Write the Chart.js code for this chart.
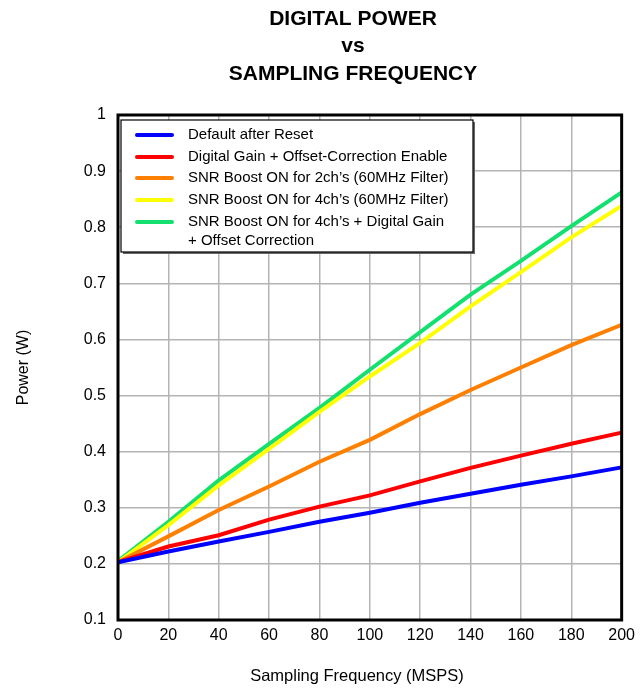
<!DOCTYPE html>
<html>
<head>
<meta charset="utf-8">
<script src="https://cdn.jsdelivr.net/npm/chart.js@4.4.1/dist/chart.umd.min.js"></script>
<style>
  html, body { margin: 0; padding: 0; background: #fff; }
  #wrap { width: 641px; height: 688px; position: relative; }
</style>
</head>
<body>
<div id="wrap"><canvas id="powerChart"></canvas></div>
<script>
// sampling frequency (MSPS)
const freqs = [0, 20, 40, 60, 80, 100, 120, 140, 160, 180, 200];

// digital power (W)
const defaultAfterReset = [0.203, 0.222, 0.240, 0.257, 0.275, 0.291, 0.309, 0.325, 0.341, 0.356, 0.372];
const gainOffsetEnable  = [0.203, 0.231, 0.251, 0.279, 0.302, 0.322, 0.347, 0.371, 0.393, 0.414, 0.434];
const snrBoost2ch       = [0.203, 0.249, 0.296, 0.338, 0.382, 0.421, 0.467, 0.510, 0.550, 0.590, 0.626];
const snrBoost4ch       = [0.203, 0.269, 0.340, 0.405, 0.471, 0.534, 0.594, 0.659, 0.720, 0.782, 0.838];
const snrBoost4chGain   = [0.205, 0.275, 0.349, 0.414, 0.478, 0.546, 0.613, 0.680, 0.740, 0.802, 0.862];

const seriesLabels = [
  ['Default after Reset'],
  ['Digital Gain + Offset-Correction Enable'],
  ['SNR Boost ON for 2ch\u2019s (60MHz Filter)'],
  ['SNR Boost ON for 4ch\u2019s (60MHz Filter)'],
  ['SNR Boost ON for 4ch\u2019s + Digital Gain', '+ Offset Correction']
];
const seriesColors = ['#0000ff', '#ff0000', '#ff8000', '#ffff00', '#14e070'];

const titleLines = ['DIGITAL POWER', 'vs', 'SAMPLING FREQUENCY'];
const xTitle = 'Sampling Frequency (MSPS)';
const yTitle = 'Power (W)';

const FONT = '"Liberation Sans", Arial, Helvetica, sans-serif';

const allSeries = [defaultAfterReset, gainOffsetEnable, snrBoost2ch, snrBoost4ch, snrBoost4chGain];
const datasets = allSeries.map((vals, i) => ({
  label: seriesLabels[i].join(' '),
  data: freqs.map((f, k) => ({ x: f, y: vals[k] })),
  borderColor: seriesColors[i],
  borderWidth: 4,
  pointRadius: 0,
  tension: 0,
  fill: false
}));

// title, x title, frame and the boxed legend
const decor = {
  id: 'decor',
  afterDraw(chart) {
    const { ctx, chartArea: a } = chart;
    ctx.save();

    // titles
    ctx.fillStyle = '#000';
    ctx.textAlign = 'center';
    ctx.textBaseline = 'middle';
    ctx.font = 'bold 21px ' + FONT;
    const ty = [19, 46, 74];
    titleLines.forEach((t, i) => ctx.fillText(t, 353, ty[i]));

    ctx.font = '16.5px ' + FONT;
    ctx.fillText(xTitle, 357, 676);

    // plot frame
    ctx.strokeStyle = '#000';
    ctx.lineWidth = 3;
    ctx.strokeRect(a.left, a.top, a.right - a.left, a.bottom - a.top);

    // legend box
    const bx = 121, by = 120, bw = 352, bh = 132;
    ctx.fillStyle = '#666';
    ctx.fillRect(bx + 2, by + 2, bw, bh);
    ctx.fillStyle = '#fff';
    ctx.fillRect(bx, by, bw, bh);
    ctx.lineWidth = 1.2;
    ctx.strokeStyle = '#000';
    ctx.strokeRect(bx, by, bw, bh);

    const rows = [135, 157, 178, 200, 222];
    ctx.textAlign = 'left';
    ctx.font = '15px ' + FONT;
    seriesLabels.forEach((lines, i) => {
      const y = rows[i];
      ctx.strokeStyle = seriesColors[i];
      ctx.lineWidth = 4;
      ctx.lineCap = 'round';
      ctx.beginPath();
      ctx.moveTo(137, y);
      ctx.lineTo(172, y);
      ctx.stroke();
      ctx.fillStyle = '#000';
      lines.forEach((ln, j) => ctx.fillText(ln, 188, y + j * 19));
    });
    ctx.restore();
  }
};

new Chart(document.getElementById('powerChart'), {
  type: 'line',
  data: { datasets },
  options: {
    responsive: true,
    maintainAspectRatio: false,
    animation: false,
    layout: { padding: { top: 115, right: 16, left: 0, bottom: 0 } },
    plugins: {
      legend: { display: false },
      title: { display: false },
      tooltip: { enabled: false }
    },
    scales: {
      x: {
        type: 'linear',
        min: 0,
        max: 200,
        ticks: { stepSize: 20, color: '#000', font: { family: FONT, size: 16 }, padding: 6 },
        grid: { color: '#b4b4b4', lineWidth: 1.5, drawTicks: false },
        border: { display: false },
        afterFit(scale) { scale.height = 68; }
      },
      y: {
        min: 0.1,
        max: 1,
        ticks: {
          stepSize: 0.1,
          color: '#000',
          font: { family: FONT, size: 16 },
          padding: 12,
          callback: v => String(Number(v.toFixed(1)))
        },
        grid: { color: '#b4b4b4', lineWidth: 1.5, drawTicks: false },
        border: { display: false },
        title: {
          display: true,
          text: yTitle,
          color: '#000',
          font: { family: FONT, size: 16 },
          padding: { top: 14, bottom: 0 }
        },
        afterFit(scale) { scale.width = 118; }
      }
    }
  },
  plugins: [decor]
});
</script>
</body>
</html>
